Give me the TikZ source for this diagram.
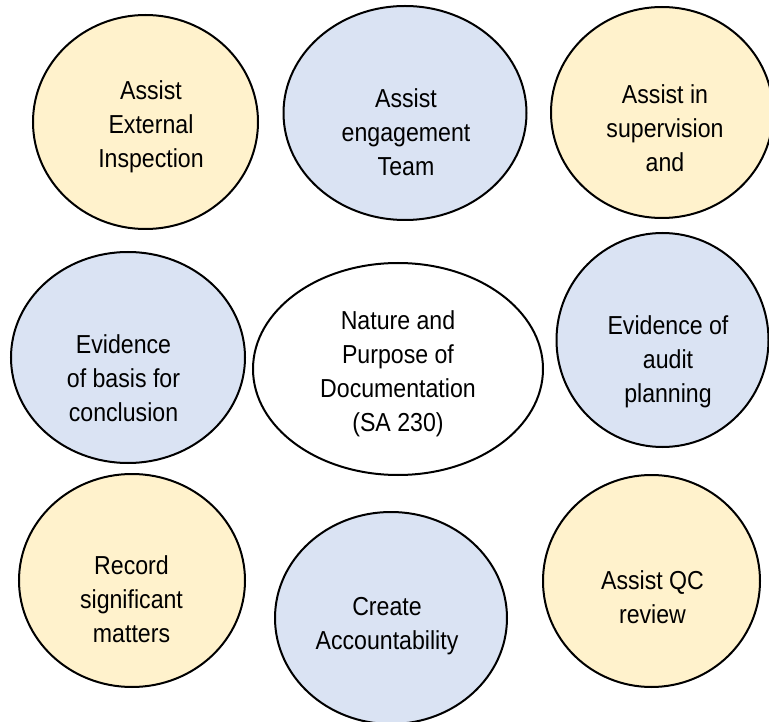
\documentclass[tikz,border=0pt]{standalone}
\usepackage{fontspec}
\setmainfont{Liberation Sans}[FakeStretch=0.89]
\usetikzlibrary{shapes.geometric}
\definecolor{bubyellow}{HTML}{FFF2CC}
\definecolor{bubblue}{HTML}{DAE3F3}
\tikzset{
  bubble/.style={ellipse, draw=black, line width=2pt, inner sep=0pt},
  bubtext/.style={align=center, inner sep=0pt, text=black, font=\fontsize{26}{34}\selectfont}
}
\begin{document}
\begin{tikzpicture}[x=1pt,y=-1pt]
\useasboundingbox (0,0) rectangle (769,722);
% ellipses
\node[bubble, fill=bubyellow, minimum width=225pt, minimum height=214pt] (e1) at (145.5,122) {};
\node[bubble, fill=bubblue,   minimum width=243pt, minimum height=214pt] (e2) at (405,113) {};
\node[bubble, fill=bubyellow, minimum width=222pt, minimum height=211pt] (e3) at (662,112.5) {};
\node[bubble, fill=bubblue,   minimum width=234pt, minimum height=211pt] (e4) at (128,357.5) {};
\node[bubble, fill=white,     minimum width=290pt, minimum height=212pt] (e5) at (398,369) {};
\node[bubble, fill=bubblue,   minimum width=212pt, minimum height=214pt] (e6) at (662.5,340) {};
\node[bubble, fill=bubyellow, minimum width=226pt, minimum height=213pt] (e7) at (132,580.5) {};
\node[bubble, fill=bubblue,   minimum width=232pt, minimum height=212pt] (e8) at (391,618) {};
\node[bubble, fill=bubyellow, minimum width=217pt, minimum height=212pt] (e9) at (651.5,581) {};
% texts
\node[bubtext] (t1) at (151,126.5) {Assist\\External\\Inspection};
\node[bubtext] (t2) at (406,132.5) {Assist\\engagement\\Team};
\node[bubtext] (t3) at (665,128.5) {Assist in\\supervision\\and};
\node[bubtext] (t4) at (123.5,378) {Evidence\\of basis for\\conclusion};
\node[bubtext] (t5) at (398,373.5) {Nature and\\Purpose of\\Documentation\\(SA 230)};
\node[bubtext] (t6) at (668,361.5) {Evidence of\\audit\\planning};
\node[bubtext] (t7) at (131.5,599.5) {Record\\significant\\matters};
\node[bubtext] (t8) at (387,626.5) {Create\\Accountability};
\node[bubtext] (t9) at (652.5,597.5) {Assist QC\\review};
\end{tikzpicture}
\end{document}
